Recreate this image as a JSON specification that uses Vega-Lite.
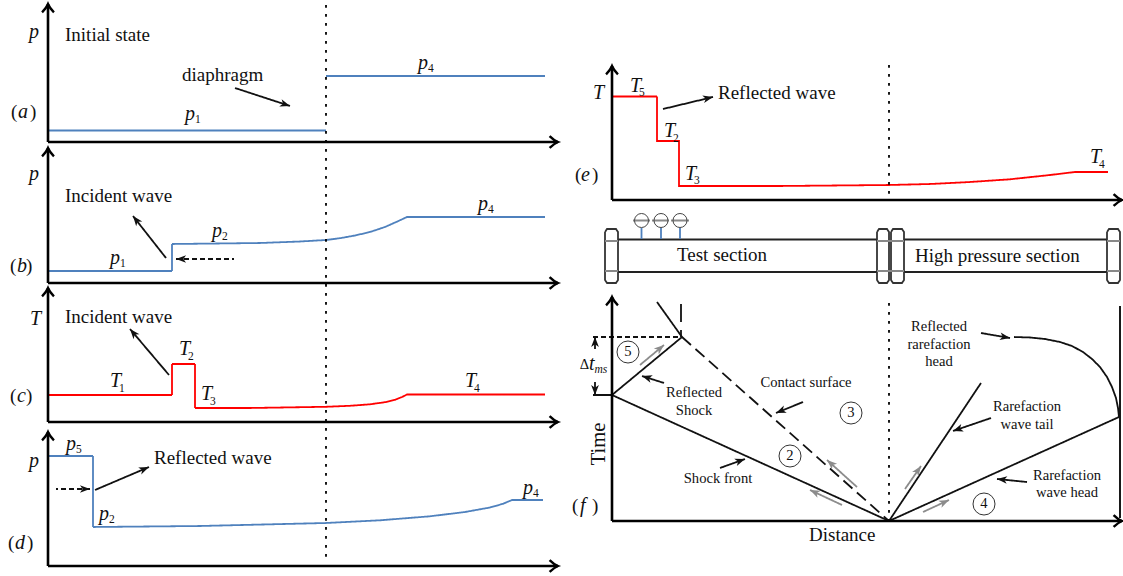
{"$schema":"https://vega.github.io/schema/vega-lite/v6.json","width":1123,"height":576,"autosize":"none","padding":0,"background":"white","config":{"view":{"stroke":null}},
"datasets":{
"lines":[
{"s":"a1","k":"blue","i":0,"x":48,"y":130.5},{"s":"a1","k":"blue","i":1,"x":326,"y":130.5},
{"s":"a4","k":"blue","i":0,"x":326,"y":76},{"s":"a4","k":"blue","i":1,"x":545,"y":76},
{"s":"b","k":"blue","i":0,"x":48,"y":271},{"s":"b","k":"blue","i":1,"x":172,"y":271},{"s":"b","k":"blue","i":2,"x":172,"y":244},{"s":"b","k":"blue","i":3,"x":200,"y":243.7},{"s":"b","k":"blue","i":4,"x":260,"y":243},{"s":"b","k":"blue","i":5,"x":300,"y":241.5},{"s":"b","k":"blue","i":6,"x":326,"y":240},{"s":"b","k":"blue","i":7,"x":340,"y":238.2},{"s":"b","k":"blue","i":8,"x":355,"y":235.5},{"s":"b","k":"blue","i":9,"x":370,"y":232},{"s":"b","k":"blue","i":10,"x":385,"y":227},{"s":"b","k":"blue","i":11,"x":398,"y":221.2},{"s":"b","k":"blue","i":12,"x":407,"y":217},{"s":"b","k":"blue","i":13,"x":545,"y":217},
{"s":"c","k":"red","i":0,"x":48,"y":395},{"s":"c","k":"red","i":1,"x":172,"y":395},{"s":"c","k":"red","i":2,"x":172,"y":364},{"s":"c","k":"red","i":3,"x":195,"y":364},{"s":"c","k":"red","i":4,"x":195,"y":408},{"s":"c","k":"red","i":5,"x":250,"y":408},{"s":"c","k":"red","i":6,"x":326,"y":406.8},{"s":"c","k":"red","i":7,"x":350,"y":405.8},{"s":"c","k":"red","i":8,"x":370,"y":404.3},{"s":"c","k":"red","i":9,"x":385,"y":402.2},{"s":"c","k":"red","i":10,"x":395,"y":399.8},{"s":"c","k":"red","i":11,"x":402,"y":397},{"s":"c","k":"red","i":12,"x":407,"y":394.5},{"s":"c","k":"red","i":13,"x":545,"y":394.5},
{"s":"d","k":"blue","i":0,"x":48,"y":456},{"s":"d","k":"blue","i":1,"x":93,"y":456},{"s":"d","k":"blue","i":2,"x":93,"y":527},{"s":"d","k":"blue","i":3,"x":200,"y":526},{"s":"d","k":"blue","i":4,"x":326,"y":523},{"s":"d","k":"blue","i":5,"x":380,"y":520.3},{"s":"d","k":"blue","i":6,"x":430,"y":516.3},{"s":"d","k":"blue","i":7,"x":465,"y":512},{"s":"d","k":"blue","i":8,"x":490,"y":507.5},{"s":"d","k":"blue","i":9,"x":503,"y":503.8},{"s":"d","k":"blue","i":10,"x":512,"y":500},{"s":"d","k":"blue","i":11,"x":543,"y":500},
{"s":"e","k":"red","i":0,"x":612,"y":96.5},{"s":"e","k":"red","i":1,"x":657,"y":96.5},{"s":"e","k":"red","i":2,"x":657,"y":141},{"s":"e","k":"red","i":3,"x":679,"y":141},{"s":"e","k":"red","i":4,"x":679,"y":186},{"s":"e","k":"red","i":5,"x":780,"y":186},{"s":"e","k":"red","i":6,"x":889,"y":185},{"s":"e","k":"red","i":7,"x":930,"y":184},{"s":"e","k":"red","i":8,"x":970,"y":182},{"s":"e","k":"red","i":9,"x":1010,"y":179.3},{"s":"e","k":"red","i":10,"x":1050,"y":175},{"s":"e","k":"red","i":11,"x":1075,"y":172},{"s":"e","k":"red","i":12,"x":1108,"y":172},
{"s":"dot1","k":"dotted","i":0,"x":326,"y":5},{"s":"dot1","k":"dotted","i":1,"x":326,"y":560},
{"s":"dot2","k":"dotted","i":0,"x":889,"y":65},{"s":"dot2","k":"dotted","i":1,"x":889,"y":197},
{"s":"dot3","k":"dotted","i":0,"x":889,"y":303},{"s":"dot3","k":"dotted","i":1,"x":889,"y":521},
{"s":"pt1","k":"pipe","i":0,"x":618,"y":239.5},{"s":"pt1","k":"pipe","i":1,"x":877,"y":239.5},
{"s":"pt2","k":"pipe","i":0,"x":904,"y":239.5},{"s":"pt2","k":"pipe","i":1,"x":1107,"y":239.5},
{"s":"pb1","k":"pipe","i":0,"x":618,"y":272},{"s":"pb1","k":"pipe","i":1,"x":877,"y":272},
{"s":"pb2","k":"pipe","i":0,"x":904,"y":272},{"s":"pb2","k":"pipe","i":1,"x":1107,"y":272},
{"s":"fl1","k":"flange","i":0,"x":605,"y":232},{"s":"fl1","k":"flange","i":1,"x":607,"y":229},{"s":"fl1","k":"flange","i":2,"x":616,"y":229},{"s":"fl1","k":"flange","i":3,"x":618,"y":232},{"s":"fl1","k":"flange","i":4,"x":618,"y":280},{"s":"fl1","k":"flange","i":5,"x":616,"y":283},{"s":"fl1","k":"flange","i":6,"x":607,"y":283},{"s":"fl1","k":"flange","i":7,"x":605,"y":280},{"s":"fl1","k":"flange","i":8,"x":605,"y":232},
{"s":"fl2","k":"flange","i":0,"x":877,"y":232},{"s":"fl2","k":"flange","i":1,"x":879,"y":229},{"s":"fl2","k":"flange","i":2,"x":887,"y":229},{"s":"fl2","k":"flange","i":3,"x":889,"y":232},{"s":"fl2","k":"flange","i":4,"x":889,"y":280},{"s":"fl2","k":"flange","i":5,"x":887,"y":283},{"s":"fl2","k":"flange","i":6,"x":879,"y":283},{"s":"fl2","k":"flange","i":7,"x":877,"y":280},{"s":"fl2","k":"flange","i":8,"x":877,"y":232},
{"s":"fl3","k":"flange","i":0,"x":891,"y":232},{"s":"fl3","k":"flange","i":1,"x":893,"y":229},{"s":"fl3","k":"flange","i":2,"x":902,"y":229},{"s":"fl3","k":"flange","i":3,"x":904,"y":232},{"s":"fl3","k":"flange","i":4,"x":904,"y":280},{"s":"fl3","k":"flange","i":5,"x":902,"y":283},{"s":"fl3","k":"flange","i":6,"x":893,"y":283},{"s":"fl3","k":"flange","i":7,"x":891,"y":280},{"s":"fl3","k":"flange","i":8,"x":891,"y":232},
{"s":"fl4","k":"flange","i":0,"x":1107,"y":232},{"s":"fl4","k":"flange","i":1,"x":1109,"y":229},{"s":"fl4","k":"flange","i":2,"x":1118,"y":229},{"s":"fl4","k":"flange","i":3,"x":1120,"y":232},{"s":"fl4","k":"flange","i":4,"x":1120,"y":280},{"s":"fl4","k":"flange","i":5,"x":1118,"y":283},{"s":"fl4","k":"flange","i":6,"x":1109,"y":283},{"s":"fl4","k":"flange","i":7,"x":1107,"y":280},{"s":"fl4","k":"flange","i":8,"x":1107,"y":232},
{"s":"fi1","k":"inner","i":0,"x":605,"y":241},{"s":"fi1","k":"inner","i":1,"x":618,"y":241},{"s":"fi2","k":"inner","i":0,"x":605,"y":271},{"s":"fi2","k":"inner","i":1,"x":618,"y":271},
{"s":"fi3","k":"inner","i":0,"x":877,"y":241},{"s":"fi3","k":"inner","i":1,"x":904,"y":241},{"s":"fi4","k":"inner","i":0,"x":877,"y":271},{"s":"fi4","k":"inner","i":1,"x":904,"y":271},
{"s":"fi5","k":"inner","i":0,"x":1107,"y":241},{"s":"fi5","k":"inner","i":1,"x":1120,"y":241},{"s":"fi6","k":"inner","i":0,"x":1107,"y":271},{"s":"fi6","k":"inner","i":1,"x":1120,"y":271},
{"s":"st1","k":"blue","i":0,"x":641.5,"y":228},{"s":"st1","k":"blue","i":1,"x":641.5,"y":239},
{"s":"st2","k":"blue","i":0,"x":661,"y":228},{"s":"st2","k":"blue","i":1,"x":661,"y":239},
{"s":"st3","k":"blue","i":0,"x":680,"y":228},{"s":"st3","k":"blue","i":1,"x":680,"y":239},
{"s":"gl1","k":"inner","i":0,"x":633,"y":220.5},{"s":"gl1","k":"inner","i":1,"x":650,"y":220.5},
{"s":"gl2","k":"inner","i":0,"x":652,"y":220.5},{"s":"gl2","k":"inner","i":1,"x":669,"y":220.5},
{"s":"gl3","k":"inner","i":0,"x":671,"y":220.5},{"s":"gl3","k":"inner","i":1,"x":689,"y":220.5},
{"s":"f1","k":"thin","i":0,"x":612,"y":395},{"s":"f1","k":"thin","i":1,"x":889,"y":521},
{"s":"f2","k":"thin","i":0,"x":612,"y":395},{"s":"f2","k":"thin","i":1,"x":682,"y":337},{"s":"f2","k":"thin","i":2,"x":657,"y":302},
{"s":"f3","k":"dashed","i":0,"x":682,"y":337},{"s":"f3","k":"dashed","i":1,"x":889,"y":521},
{"s":"f4","k":"thin","i":0,"x":681,"y":304},{"s":"f4","k":"thin","i":1,"x":681,"y":322},
{"s":"f4b","k":"thin","i":0,"x":681,"y":330},{"s":"f4b","k":"thin","i":1,"x":681,"y":337},
{"s":"f5","k":"short","i":0,"x":593,"y":337},{"s":"f5","k":"short","i":1,"x":682,"y":337},
{"s":"f6","k":"thin","i":0,"x":593,"y":395},{"s":"f6","k":"thin","i":1,"x":612,"y":395},
{"s":"f7","k":"thin","i":0,"x":889,"y":521},{"s":"f7","k":"thin","i":1,"x":981,"y":383},
{"s":"f8","k":"thin","i":0,"x":889,"y":521},{"s":"f8","k":"thin","i":1,"x":1119,"y":417},
{"s":"f9","k":"axis","i":0,"x":1120,"y":306},{"s":"f9","k":"axis","i":1,"x":1120,"y":518},
{"s":"f10","k":"thin","i":0,"x":1014,"y":337},{"s":"f10","k":"thin","i":1,"x":1030,"y":337.5},{"s":"f10","k":"thin","i":2,"x":1045,"y":339},{"s":"f10","k":"thin","i":3,"x":1060,"y":342},{"s":"f10","k":"thin","i":4,"x":1072,"y":346},{"s":"f10","k":"thin","i":5,"x":1083,"y":352},{"s":"f10","k":"thin","i":6,"x":1092,"y":359},{"s":"f10","k":"thin","i":7,"x":1100,"y":367},{"s":"f10","k":"thin","i":8,"x":1107,"y":377},{"s":"f10","k":"thin","i":9,"x":1112,"y":387},{"s":"f10","k":"thin","i":10,"x":1116,"y":398},{"s":"f10","k":"thin","i":11,"x":1118,"y":408},{"s":"f10","k":"thin","i":12,"x":1119,"y":417}
],
"arrows":[
{"k":"thin","x":290,"y":106,"tx":235,"ty":88},
{"k":"thin","x":133,"y":216,"tx":166,"ty":258},
{"k":"short","x":176,"y":259,"tx":234,"ty":259},
{"k":"thin","x":130,"y":329,"tx":169,"ty":375},
{"k":"thin","x":149,"y":467,"tx":95,"ty":490},
{"k":"short","x":90,"y":489,"tx":56,"ty":489},
{"k":"thin","x":713,"y":97,"tx":663,"ty":109},
{"k":"thin","x":642,"y":376,"tx":664,"ty":383},
{"k":"thin","x":776,"y":413,"tx":803,"ty":402},
{"k":"thin","x":745,"y":459,"tx":720,"ty":468},
{"k":"thin","x":1010,"y":338,"tx":981,"ty":333},
{"k":"thin","x":953,"y":431,"tx":991,"ty":418},
{"k":"thin","x":997,"y":479,"tx":1027,"ty":482},
{"k":"thin","x":595,"y":337,"tx":595,"ty":349},
{"k":"thin","x":595,"y":395,"tx":595,"ty":382},
{"k":"gray","x":664,"y":345,"tx":640,"ty":365},
{"k":"gray","x":827,"y":460,"tx":857,"ty":487},
{"k":"gray","x":810,"y":490,"tx":842,"ty":505},
{"k":"gray","x":921,"y":466,"tx":905,"ty":489},
{"k":"gray","x":949,"y":500,"tx":923,"ty":512}
],
"axes":[
{"k":"axis","x":48,"y":4,"tx":48,"ty":142},{"k":"axis","x":558,"y":142,"tx":48,"ty":142},
{"k":"axis","x":48,"y":148,"tx":48,"ty":283},{"k":"axis","x":558,"y":283,"tx":48,"ty":283},
{"k":"axis","x":48,"y":288,"tx":48,"ty":422},{"k":"axis","x":558,"y":422,"tx":48,"ty":422},
{"k":"axis","x":48,"y":432,"tx":48,"ty":566},{"k":"axis","x":558,"y":566,"tx":48,"ty":566},
{"k":"axis","x":612,"y":66,"tx":612,"ty":200},{"k":"axis","x":1122,"y":200,"tx":612,"ty":200},
{"k":"axis","x":612,"y":297,"tx":612,"ty":521},{"k":"axis","x":1122,"y":521,"tx":612,"ty":521}
],
"gauges":[{"x":641.5,"y":220.5},{"x":661,"y":220.5},{"x":680,"y":220.5}],
"regions":[{"x":628,"y":352},{"x":851,"y":413},{"x":790,"y":456},{"x":984,"y":504}],
"regionLabels":[{"t":"5","x":628,"y":352},{"t":"3","x":851,"y":413},{"t":"2","x":790,"y":456},{"t":"4","x":984,"y":504},{"t":"Δ","x":584.5,"y":365},
{"t":"Reflected","x":939,"y":327},{"t":"rarefaction","x":939,"y":345},{"t":"head","x":939,"y":362},
{"t":"Reflected","x":694,"y":393},{"t":"Shock","x":694,"y":411},{"t":"Contact surface","x":806,"y":383},{"t":"Shock front","x":718,"y":479},
{"t":"Rarefaction","x":1027,"y":407},{"t":"wave tail","x":1027,"y":425},{"t":"Rarefaction","x":1067,"y":476},{"t":"wave head","x":1067,"y":493}],
"roman":[{"t":"Initial state","x":65,"y":41},{"t":"diaphragm","x":182,"y":81},{"t":"Incident wave","x":65,"y":202},{"t":"Incident wave","x":65,"y":323},{"t":"Reflected wave","x":154,"y":464},{"t":"Reflected wave","x":718,"y":99},{"t":"Test section","x":677,"y":261},{"t":"High pressure section","x":915,"y":262},{"t":"Distance","x":809,"y":541},
{"t":"(","x":11,"y":118},{"t":")","x":30,"y":118},{"t":"(","x":10,"y":272},{"t":")","x":26,"y":272},{"t":"(","x":10,"y":402},{"t":")","x":26,"y":402},{"t":"(","x":8,"y":549},{"t":")","x":27,"y":549},{"t":"(","x":575,"y":181},{"t":")","x":592,"y":181},{"t":"(","x":572,"y":512},{"t":")","x":592,"y":512}],
"time":[{"t":"Time","x":605,"y":444}],
"italic":[{"t":"p","x":29,"y":38},{"t":"p","x":29,"y":180},{"t":"T","x":30,"y":325},{"t":"p","x":29,"y":467},{"t":"T","x":593,"y":99},
{"t":"a","x":18,"y":118},{"t":"b","x":17,"y":272},{"t":"c","x":17,"y":402},{"t":"d","x":15,"y":549},{"t":"e","x":581,"y":181},{"t":"f","x":580,"y":512},
{"t":"p","x":185,"y":120},{"t":"p","x":418,"y":69},{"t":"p","x":110,"y":264},{"t":"p","x":212,"y":237},{"t":"p","x":478,"y":210},
{"t":"T","x":110,"y":387},{"t":"T","x":179,"y":355},{"t":"T","x":201,"y":400},{"t":"T","x":465,"y":387},
{"t":"p","x":66,"y":450},{"t":"p","x":99,"y":520},{"t":"p","x":523,"y":494},
{"t":"T","x":630,"y":92},{"t":"T","x":664,"y":137},{"t":"T","x":685,"y":180},{"t":"T","x":1090,"y":163},{"t":"t","x":589,"y":370}],
"subs":[{"t":"1","x":195,"y":123},{"t":"4","x":428,"y":72},{"t":"1","x":120,"y":267},{"t":"2","x":222,"y":240},{"t":"4","x":488,"y":213},
{"t":"1","x":119,"y":392},{"t":"2","x":188,"y":360},{"t":"3","x":210,"y":405},{"t":"4","x":474,"y":392},
{"t":"5","x":76,"y":453},{"t":"2","x":109,"y":523},{"t":"4","x":533,"y":497},
{"t":"5","x":639,"y":96},{"t":"2","x":673,"y":142},{"t":"3","x":694,"y":184},{"t":"4","x":1099,"y":168}],
"subi":[{"t":"ms","x":594.5,"y":373}]
},
"encoding":{
"x":{"field":"x","type":"quantitative","scale":{"domain":[0,1123],"nice":false,"zero":false},"axis":null},
"y":{"field":"y","type":"quantitative","scale":{"domain":[576,0],"nice":false,"zero":false},"axis":null}
},
"layer":[
{"data":{"name":"lines"},"mark":{"type":"line","interpolate":"linear"},"encoding":{
"detail":{"field":"s"},"order":{"field":"i"},
"stroke":{"field":"k","type":"nominal","legend":null,"scale":{"domain":["blue","red","dotted","pipe","flange","inner","thin","dashed","short","axis","gray"],"range":["#4f81bd","#ff0000","#000000","#222222","#333333","#888888","#111111","#111111","#111111","#000000","#8c8c8c"]}},
"strokeWidth":{"field":"k","type":"ordinal","legend":null,"scale":{"domain":["blue","red","dotted","pipe","flange","inner","thin","dashed","short","axis","gray"],"range":[1.8,1.8,2.8,1.6,1,0.9,1.6,1.5,1.5,2.6,1.6]}},
"strokeDash":{"field":"k","type":"nominal","legend":null,"scale":{"domain":["blue","red","dotted","pipe","flange","inner","thin","dashed","short","axis","gray"],"range":[[1,0],[1,0],[2.8,6.2],[1,0],[1,0],[1,0],[1,0],[12,6],[5,3],[1,0],[1,0]]}}
}},
{"data":{"name":"arrows"},"mark":{"type":"rule"},"encoding":{
"x2":{"field":"tx"},"y2":{"field":"ty"},
"stroke":{"field":"k","type":"nominal","legend":null},
"strokeWidth":{"field":"k","type":"ordinal","legend":null},
"strokeDash":{"field":"k","type":"nominal","legend":null}
}},
{"data":{"name":"arrows"},"transform":[{"calculate":"atan2(datum.x-datum.tx,datum.ty-datum.y)*180/PI","as":"a"}],
"mark":{"type":"point","filled":true,"opacity":1,"size":60,"strokeWidth":0,"shape":"M0,0 L1,2.6 L0,1.9 L-1,2.6 Z"},"encoding":{
"angle":{"field":"a","type":"quantitative","scale":null},
"fill":{"field":"k","type":"nominal","legend":null,"scale":{"domain":["thin","short","gray"],"range":["#111111","#111111","#8c8c8c"]}}
}},
{"data":{"name":"axes"},"mark":{"type":"rule","stroke":"#000000","strokeWidth":2.6},"encoding":{"x2":{"field":"tx"},"y2":{"field":"ty"}}},
{"data":{"name":"axes"},"transform":[{"calculate":"atan2(datum.x-datum.tx,datum.ty-datum.y)*180/PI","as":"a"}],
"mark":{"type":"point","filled":false,"opacity":1,"stroke":"#000000","strokeWidth":2.4,"size":196,"shape":"M-0.85,1.2 Q-0.25,0.6 0,0 Q0.25,0.6 0.85,1.2"},"encoding":{
"angle":{"field":"a","type":"quantitative","scale":null}
}},
{"data":{"name":"gauges"},"mark":{"type":"point","shape":"circle","filled":false,"opacity":1,"stroke":"#444444","strokeWidth":1,"size":196}},
{"data":{"name":"regions"},"mark":{"type":"point","shape":"circle","filled":false,"opacity":1,"stroke":"#333333","strokeWidth":1,"size":484}},
{"data":{"name":"regionLabels"},"mark":{"type":"text","font":"Liberation Serif","fontSize":14.6,"align":"center","baseline":"middle","color":"#111111"},"encoding":{"text":{"field":"t"}}},
{"data":{"name":"roman"},"mark":{"type":"text","font":"Liberation Serif","fontSize":19,"align":"left","baseline":"alphabetic","color":"#111111"},"encoding":{"text":{"field":"t"}}},
{"data":{"name":"time"},"mark":{"type":"text","font":"Liberation Serif","fontSize":20.5,"align":"center","baseline":"alphabetic","angle":270,"color":"#111111"},"encoding":{"text":{"field":"t"}}},
{"data":{"name":"italic"},"mark":{"type":"text","font":"Liberation Serif","fontStyle":"italic","fontSize":20,"align":"left","baseline":"alphabetic","color":"#111111"},"encoding":{"text":{"field":"t"}}},
{"data":{"name":"subs"},"mark":{"type":"text","font":"Liberation Serif","fontSize":11.5,"align":"left","baseline":"alphabetic","color":"#111111"},"encoding":{"text":{"field":"t"}}},
{"data":{"name":"subi"},"mark":{"type":"text","font":"Liberation Serif","fontStyle":"italic","fontSize":11.5,"align":"left","baseline":"alphabetic","color":"#111111"},"encoding":{"text":{"field":"t"}}}
]}
